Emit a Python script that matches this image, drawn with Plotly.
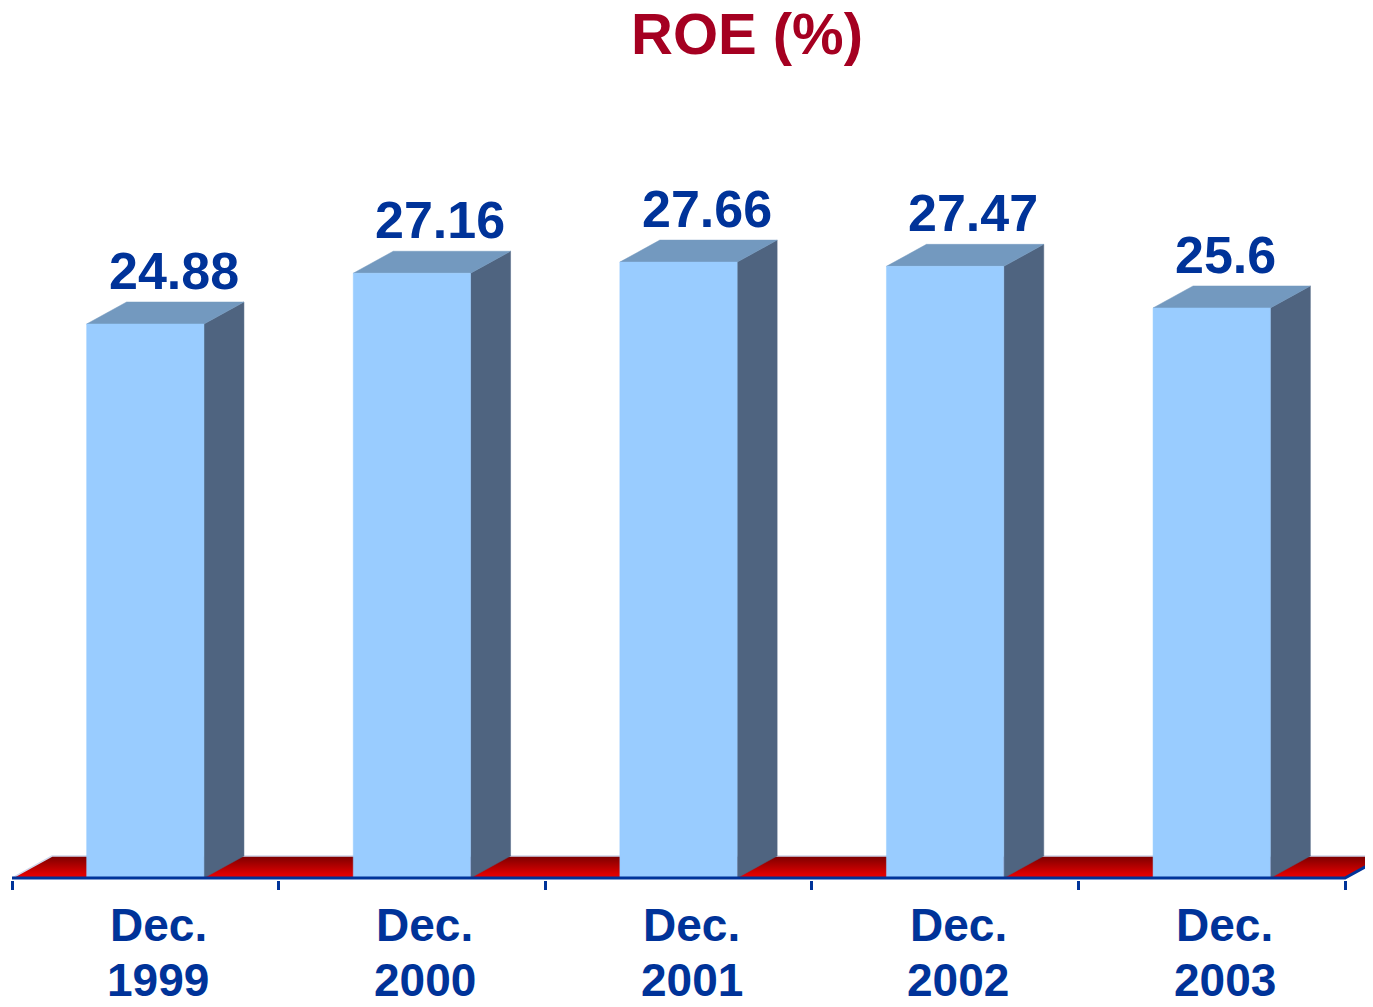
import plotly.graph_objects as go

# ---- data ----
categories = ["Dec.\n1999", "Dec.\n2000", "Dec.\n2001", "Dec.\n2002", "Dec.\n2003"]
roe_values = [24.88, 27.16, 27.66, 27.47, 25.6]
value_labels = ["24.88", "27.16", "27.66", "27.47", "25.6"]
title_text = "ROE (%)"

# ---- geometry / styling ----
# the page body adds an 8px margin, so the figure is sized/offset for that
W, H = 1365, 999
ML, MR, MT, MB = 4, 0, 202, 127
plot_w = W - ML - MR
plot_h = H - MT - MB
n = len(categories)
cat_px = 266.6                       # pixel width of one category slot
unit_px = 668 / 30.0                 # pixels per percentage point
x_lo, x_hi = -0.5, n - 0.5           # axis extent (categories)
x_range = [x_lo, x_lo + plot_w / cat_px]
y_lo = -2 / unit_px
y_range = [y_lo, y_lo + plot_h / unit_px]

depth_dx = 40 / cat_px
depth_dy = 22 / unit_px
half_w = 0.22

FRONT = "#99CCFF"
SIDE = "#4F6480"
TOP = "#7399BF"
BLUE = "#003399"
TITLE_RED = "#A50021"
FONT = "Liberation Sans, Arial, sans-serif"

fig = go.Figure()

# floor
fig.add_trace(go.Scatter(
    x=[x_lo, x_hi, x_hi + depth_dx, x_lo + depth_dx, x_lo],
    y=[0, 0, depth_dy, depth_dy, 0],
    mode="lines", fill="toself", line=dict(width=0, color="rgba(0,0,0,0)"),
    fillcolor="red",
    fillgradient=dict(type="vertical", colorscale=[[0, "#F20000"], [1, "#7A0000"]]),
    hoverinfo="skip", showlegend=False))
# floor highlight edges
fig.add_trace(go.Scatter(
    x=[x_lo, x_lo + depth_dx, x_hi + depth_dx],
    y=[0, depth_dy, depth_dy],
    mode="lines", line=dict(width=1.5, color="#D0D8EC"),
    hoverinfo="skip", showlegend=False))

for i, v in enumerate(roe_values):
    xl, xr = i - half_w, i + half_w
    # side face
    fig.add_trace(go.Scatter(
        x=[xr, xr + depth_dx, xr + depth_dx, xr, xr],
        y=[0, depth_dy, v + depth_dy, v, 0],
        mode="lines", fill="toself", fillcolor=SIDE, line=dict(width=0.5, color=SIDE),
        hoverinfo="skip", showlegend=False))
    # top face
    fig.add_trace(go.Scatter(
        x=[xl, xl + depth_dx, xr + depth_dx, xr, xl],
        y=[v, v + depth_dy, v + depth_dy, v, v],
        mode="lines", fill="toself", fillcolor=TOP, line=dict(width=0.5, color=TOP),
        hoverinfo="skip", showlegend=False))
    # front face
    fig.add_trace(go.Scatter(
        x=[xl, xr, xr, xl, xl],
        y=[0, 0, v, v, 0],
        mode="lines", fill="toself", fillcolor=FRONT, line=dict(width=0.5, color=FRONT),
        hoverinfo="skip", showlegend=False))
    # value label
    fig.add_annotation(
        x=xl, y=v + depth_dy, xref="x", yref="y", text="<b>" + value_labels[i] + "</b>",
        showarrow=False, xanchor="left", yanchor="bottom", xshift=20, yshift=0,
        font=dict(family=FONT, size=52, color=BLUE))
    # category label (two lines)
    for j, line in enumerate(categories[i].split("\n")):
        fig.add_annotation(
            x=i, y=0, xref="x", yref="y", text="<b>" + line + "</b>",
            showarrow=False, xanchor="center", yanchor="middle", xshift=13,
            yshift=-(47 + 55 * j),
            font=dict(family=FONT, size=46, color=BLUE))

# axis line (front edge of floor + right edge), drawn on top
fig.add_trace(go.Scatter(
    x=[x_lo, x_hi, x_hi + depth_dx],
    y=[0, 0, depth_dy],
    mode="lines", line=dict(width=3, color=BLUE),
    hoverinfo="skip", showlegend=False))

# title
fig.add_annotation(
    x=(747 - 8 - ML) / plot_w, y=1 + (MT + 8 - 34) / plot_h, xref="paper", yref="paper",
    text="<b>" + title_text + "</b>", showarrow=False,
    xanchor="center", yanchor="middle",
    font=dict(family=FONT, size=58, color=TITLE_RED))

fig.update_layout(
    width=W, height=H,
    margin=dict(l=ML, r=MR, t=MT, b=MB, autoexpand=False),
    plot_bgcolor="white", paper_bgcolor="white",
    showlegend=False,
    xaxis=dict(range=x_range, showgrid=False, zeroline=False, showline=False,
               ticks="outside", ticklen=9, tickwidth=3, tickcolor=BLUE,
               tickvals=[k - 0.5 for k in range(n + 1)],
               ticktext=[""] * (n + 1), fixedrange=True),
    yaxis=dict(range=y_range, visible=False, showgrid=False, zeroline=False,
               fixedrange=True),
)

fig.write_html("out.html")
